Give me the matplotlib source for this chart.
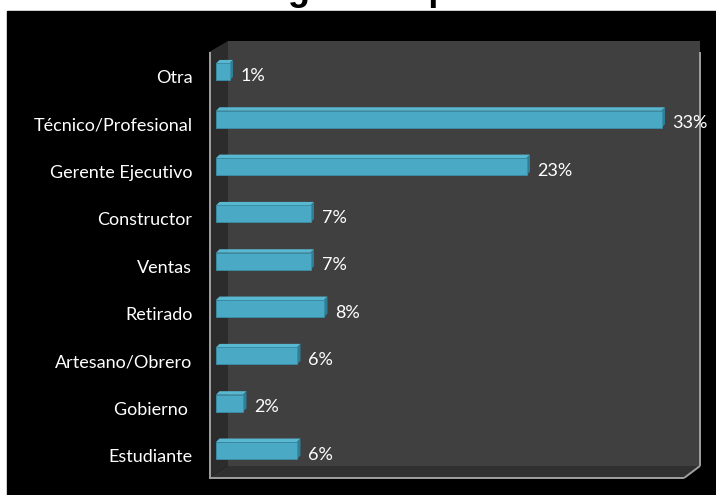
import matplotlib
matplotlib.use("Agg")
import matplotlib.pyplot as plt
from matplotlib.patches import Polygon, Rectangle
from matplotlib.transforms import ScaledTranslation

# occupations, bottom to top
categories = ["Estudiante", "Gobierno ", "Artesano/Obrero", "Retirado", "Ventas",
              "Constructor", "Gerente Ejecutivo", "Técnico/Profesional", "Otra"]
values = [6, 2, 6, 8, 7, 7, 23, 33, 1]
title = "Turistas según ocupación 1999-2000"

W, H = 716, 495
fig = plt.figure(figsize=(W / 100, H / 100), dpi=100)
fig.patch.set_facecolor("white")

# background pieces in pixel coordinates
deco = fig.add_axes([0, 0, 1, 1], zorder=0)
deco.set_xlim(0, W)
deco.set_ylim(H, 0)
deco.axis("off")

deco.add_patch(Rectangle((7, 11), W - 7, H - 11, color="black"))
deco.text(100, 0.5, title, ha="left", va="baseline", fontsize=26,
          fontweight="bold", family="Liberation Sans", color="black")

back = Polygon([(228, 41), (700, 41), (700, 466), (228, 466)], closed=True,
               facecolor="#404040", edgecolor="none")
side = Polygon([(209, 52), (228, 41), (228, 466), (209, 477)], closed=True,
               facecolor="#2c2c2c", edgecolor="none")
floor = Polygon([(209, 477), (228, 466), (700, 466), (684, 477)], closed=True,
                facecolor="#303030", edgecolor="none")
for p in (back, side, floor):
    deco.add_patch(p)
edge = dict(color="#a0a0a0", lw=1.4, solid_capstyle="butt")
deco.plot([209.5, 209.5], [52, 479], **edge)
deco.plot([209, 684], [478, 478], **edge)
deco.plot([684, 700], [478, 466], **edge)
deco.plot([700, 700], [52, 466], **edge)

# bar axes: 0 at x=216px, 13.5 px per percent
x0, x1 = 216, 216 + 35 * 13.5
ytop, ybot = 48.3, 474.2
ax = fig.add_axes([x0 / W, 1 - ybot / H, (x1 - x0) / W, (ybot - ytop) / H], zorder=1)
ax.set_xlim(0, 35)
ax.set_ylim(-0.5, len(categories) - 0.5)
ax.patch.set_alpha(0)
for s in ax.spines.values():
    s.set_visible(False)
ax.set_xticks([])

ypos = list(range(len(categories)))
h = 0.36
ddx = 3.5 / 13.5
ddy = 3.5 / ((ybot - ytop) / len(categories))

ax.barh(ypos, values, height=h, color="#4aaac5", edgecolor="#3a8fa8", lw=0.6, zorder=3)
for y, v in zip(ypos, values):
    top = Polygon([(0, y + h / 2), (v, y + h / 2), (v + ddx, y + h / 2 + ddy),
                   (ddx, y + h / 2 + ddy)], closed=True,
                  facecolor="#58b8d2", edgecolor="none", zorder=2)
    right = Polygon([(v, y - h / 2), (v + ddx, y - h / 2 + ddy),
                     (v + ddx, y + h / 2 + ddy), (v, y + h / 2)], closed=True,
                    facecolor="#2f7f96", edgecolor="none", zorder=2)
    ax.add_patch(top)
    ax.add_patch(right)
    ax.annotate(f"{v}%", (v, y), xytext=(8, -3), textcoords="offset points",
                ha="left", va="center", color="white", fontsize=13, family="Lato")

ax.set_yticks(ypos, categories)
ax.tick_params(axis="y", length=0, pad=17, labelsize=13, labelcolor="white")
for lab in ax.get_yticklabels():
    lab.set_family("Lato")
    lab.set_transform(lab.get_transform() + ScaledTranslation(0, -5 / 100, fig.dpi_scale_trans))

fig.savefig("out.png", dpi=100, facecolor=fig.get_facecolor())
